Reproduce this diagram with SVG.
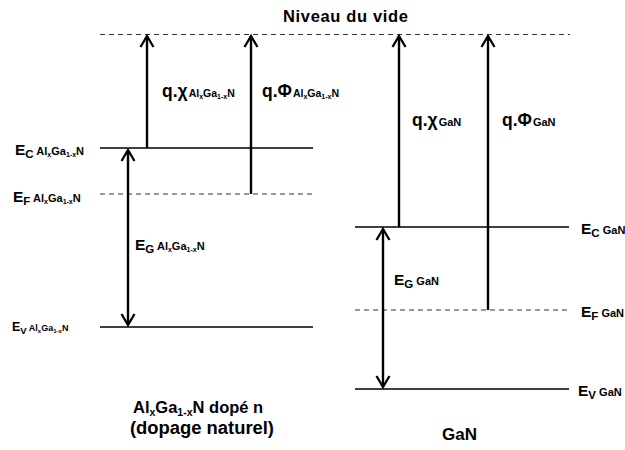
<svg xmlns="http://www.w3.org/2000/svg" width="625" height="450" viewBox="0 0 625 450">
<defs>
<marker id="ah" markerUnits="userSpaceOnUse" markerWidth="20" markerHeight="20" refX="0" refY="0" viewBox="-14 -10 16 20" orient="auto-start-reverse" overflow="visible">
<path d="M-11,-6.5 L0,0 L-11,6.5" fill="none" stroke="#000" stroke-width="2.3"/>
</marker>
<style>
text{font-family:"Liberation Sans",Arial,sans-serif;font-weight:bold;fill:#000}
.lvl{stroke:#000;stroke-width:1.6;fill:none}
.dash{stroke:#333;stroke-width:1.2;stroke-dasharray:5 4;fill:none}
.arr{stroke:#000;stroke-width:2.4;fill:none}
.big{font-size:15.5px}
.sm{font-size:11px}
.xs{font-size:7px}
</style>
</defs>
<rect width="625" height="450" fill="#fff"/>
<g id="levels">
<line class="dash" x1="100" y1="34.5" x2="570" y2="34.5"/>
<line class="lvl" x1="100" y1="148" x2="313" y2="148"/>
<line class="dash" x1="100" y1="194" x2="313" y2="194"/>
<line class="lvl" x1="100" y1="327" x2="313" y2="327"/>
<line class="lvl" x1="355" y1="227" x2="569" y2="227"/>
<line class="dash" x1="355" y1="310" x2="569" y2="310"/>
<line class="lvl" x1="355" y1="389" x2="569" y2="389"/>
</g>
<g id="connectors">
<line class="arr" x1="147" y1="148" x2="147" y2="36" marker-end="url(#ah)"/>
<line class="arr" x1="251" y1="194" x2="251" y2="36" marker-end="url(#ah)"/>
<line class="arr" x1="128" y1="150" x2="128" y2="325" marker-start="url(#ah)" marker-end="url(#ah)"/>
<line class="arr" x1="399" y1="227" x2="399" y2="36" marker-end="url(#ah)"/>
<line class="arr" x1="488" y1="310" x2="488" y2="36" marker-end="url(#ah)"/>
<line class="arr" x1="383" y1="229" x2="383" y2="387" marker-start="url(#ah)" marker-end="url(#ah)"/>
</g>
<g id="vide"><text x="283" y="22" font-size="16.5" textLength="125">Niveau du vide</text></g>
<g id="ec-algan"><text x="15" y="155" class="big">E<tspan font-size="11.5" dy="3">C</tspan><tspan class="sm" dy="-3"> Al</tspan><tspan class="xs" dy="2">x</tspan><tspan class="sm" dy="-2">Ga</tspan><tspan class="xs" dy="2">1-x</tspan><tspan class="sm" dy="-2">N</tspan></text></g>
<g id="ef-algan"><text x="13" y="202" class="big">E<tspan font-size="11.5" dy="3">F</tspan><tspan class="sm" dy="-3"> Al</tspan><tspan class="xs" dy="2">x</tspan><tspan class="sm" dy="-2">Ga</tspan><tspan class="xs" dy="2">1-x</tspan><tspan class="sm" dy="-2">N</tspan></text></g>
<g id="eg-algan"><text x="135" y="250" class="big">E<tspan font-size="11.5" dy="3">G</tspan><tspan class="sm" dy="-3"> Al</tspan><tspan class="xs" dy="2">x</tspan><tspan class="sm" dy="-2">Ga</tspan><tspan class="xs" dy="2">1-x</tspan><tspan class="sm" dy="-2">N</tspan></text></g>
<g id="ev-algan"><text x="12" y="331" font-size="12.5">E<tspan font-size="9.5" dy="2.5">V</tspan><tspan font-size="9" dy="-2.5"> Al</tspan><tspan font-size="6" dy="2">x</tspan><tspan font-size="9" dy="-2">Ga</tspan><tspan font-size="6" dy="2">1-x</tspan><tspan font-size="9" dy="-2">N</tspan></text></g>
<g id="chi-algan"><text x="162" y="97" font-size="17.5">q.χ<tspan font-size="10.5" dx="1">Al</tspan><tspan class="xs" dy="2">x</tspan><tspan font-size="10.5" dy="-2">Ga</tspan><tspan class="xs" dy="2">1-x</tspan><tspan font-size="10.5" dy="-2">N</tspan></text></g>
<g id="phi-algan"><text x="262" y="97" font-size="17.5">q.Φ<tspan font-size="10.5" dx="1">Al</tspan><tspan class="xs" dy="2">x</tspan><tspan font-size="10.5" dy="-2">Ga</tspan><tspan class="xs" dy="2">1-x</tspan><tspan font-size="10.5" dy="-2">N</tspan></text></g>
<g id="chi-gan"><text x="412" y="126" font-size="17.5">q.χ<tspan font-size="11" dx="1">GaN</tspan></text></g>
<g id="phi-gan"><text x="502" y="126" font-size="17.5">q.Φ<tspan font-size="11" dx="1">GaN</tspan></text></g>
<g id="ec-gan"><text x="581" y="234" class="big">E<tspan font-size="11.5" dy="3">C</tspan><tspan class="sm" dy="-3"> GaN</tspan></text></g>
<g id="ef-gan"><text x="581" y="317" class="big">E<tspan font-size="11.5" dy="3">F</tspan><tspan class="sm" dy="-3"> GaN</tspan></text></g>
<g id="eg-gan"><text x="394" y="285" class="big">E<tspan font-size="11.5" dy="3">G</tspan><tspan class="sm" dy="-3"> GaN</tspan></text></g>
<g id="ev-gan"><text x="578" y="396" class="big">E<tspan font-size="11.5" dy="3">V</tspan><tspan class="sm" dy="-3"> GaN</tspan></text></g>
<g id="title-algan">
<text x="133" y="413" font-size="16.5">Al<tspan font-size="10.5" dy="3">x</tspan><tspan dy="-3">Ga</tspan><tspan font-size="10.5" dy="3">1-x</tspan><tspan dy="-3">N dopé n</tspan></text>
<text x="130" y="434" font-size="17.5" textLength="144" lengthAdjust="spacingAndGlyphs">(dopage naturel)</text>
</g>
<g id="title-gan"><text x="442" y="440" font-size="17">GaN</text></g>
</svg>
